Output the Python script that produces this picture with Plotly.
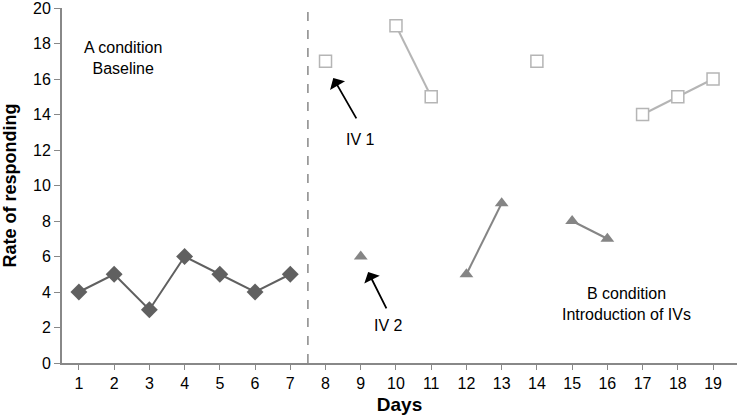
import plotly.graph_objects as go

days = list(range(1, 20))
baseline = [4, 5, 3, 6, 5, 4, 5] + [None] * 12
iv1 = [None] * 7 + [17, None, 19, 15, None, None, 17, None, None, 14, 15, 16]
iv2 = [None] * 8 + [6, None, None, 5, 9, None, 8, 7, None, None, None]
x_ticks = list(range(1, 20))
y_ticks = list(range(0, 21, 2))
phase_change = 7.5

font = "Liberation Sans, Arial, sans-serif"
fig = go.Figure()
fig.add_trace(go.Scatter(x=days, y=baseline, mode="lines+markers",
                         line=dict(color="#606060", width=2),
                         marker=dict(symbol="diamond", size=13, color="#606060"),
                         connectgaps=False, showlegend=False))
fig.add_trace(go.Scatter(x=days, y=iv1, mode="lines+markers",
                         line=dict(color="#b5b5b5", width=2),
                         marker=dict(symbol="square", size=12, color="white",
                                     line=dict(color="#b5b5b5", width=1.5)),
                         connectgaps=False, showlegend=False))
fig.add_trace(go.Scatter(x=days, y=iv2, mode="lines+markers",
                         line=dict(color="#858585", width=2),
                         marker=dict(symbol="triangle-up", size=12, color="#858585"),
                         connectgaps=False, showlegend=False))

fig.add_shape(type="line", x0=phase_change, x1=phase_change, y0=0, y1=20,
              xref="x", yref="y", line=dict(color="#888888", width=1.5, dash="dash"))

ann_font = dict(family=font, size=16, color="black")
fig.add_annotation(x=2.25, y=17.2, text="A condition<br>Baseline", showarrow=False, font=ann_font)
fig.add_annotation(x=16.55, y=3.35, text="B condition<br>Introduction of IVs", showarrow=False, font=ann_font)
fig.add_annotation(x=8.98, y=12.6, text="IV 1", showarrow=False, font=ann_font)
fig.add_annotation(x=9.78, y=2.1, text="IV 2", showarrow=False, font=ann_font)
fig.add_annotation(x=8.22, y=16.05, ax=8.9, ay=13.7, axref="x", ayref="y",
                   text="", showarrow=True, arrowhead=1, arrowsize=1.6, arrowwidth=1.8, arrowcolor="black")
fig.add_annotation(x=9.21, y=5.13, ax=9.75, ay=2.99, axref="x", ayref="y",
                   text="", showarrow=True, arrowhead=1, arrowsize=1.6, arrowwidth=1.8, arrowcolor="black")

fig.update_xaxes(range=[0.52, 19.68], tickvals=x_ticks, ticks="outside", ticklen=5,
                 tickcolor="#888888", showline=True, linecolor="#888888", linewidth=2,
                 showgrid=False, zeroline=False, automargin=False,
                 tickfont=dict(family=font, size=16, color="black"),
                 title=dict(text="<b>Days</b>", font=dict(family=font, size=19, color="black"), standoff=6))
fig.update_yaxes(range=[0, 20], tickvals=y_ticks, ticks="outside", ticklen=6,
                 tickcolor="#888888", showline=True, linecolor="#888888", linewidth=2,
                 showgrid=False, zeroline=False, automargin=False, ticklabeloverflow="allow",
                 tickfont=dict(family=font, size=16, color="black"),
                 title=dict(text="<b>Rate of responding</b>", font=dict(family=font, size=18, color="black"), standoff=16))
fig.update_layout(width=737, height=416, margin=dict(l=62, r=0, t=8, b=53),
                  plot_bgcolor="white", paper_bgcolor="white")
fig.write_html("out.html", config={"displayModeBar": False},
               post_script="document.body.style.margin='0';")
